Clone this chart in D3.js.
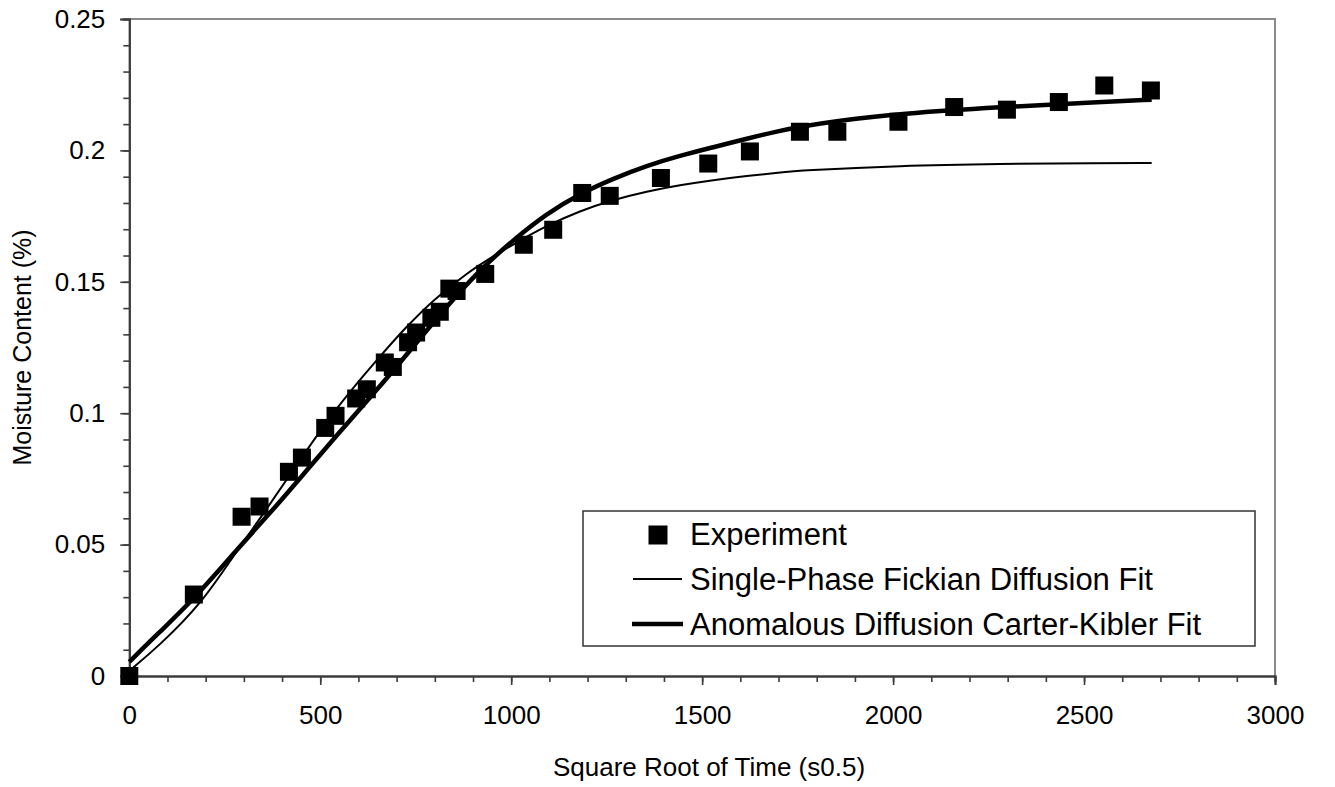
<!DOCTYPE html>
<html>
<head>
<meta charset="utf-8">
<script src="https://cdn.jsdelivr.net/npm/d3@7"></script>
<style>
  html, body { margin: 0; padding: 0; background: #fff; }
  svg { display: block; font-family: "Liberation Sans", Arial, Helvetica, sans-serif; }
</style>
</head>
<body>
<div id="chart"></div>
<script>
// Moisture uptake vs square root of time: experiment points and two fitted curves.

// Experiment points (sqrt time in s^0.5, moisture content)
const expX = [0, 169, 294, 341, 418, 452, 513, 540, 594, 622, 669, 690, 730, 751, 791, 813,
  838, 857, 932, 1033, 1110, 1186, 1258, 1392, 1516, 1625, 1756, 1854, 2014, 2160, 2298,
  2434, 2553, 2675];
const expY = [0, 0.0310, 0.0606, 0.0645, 0.0777, 0.0831, 0.0944, 0.0990, 0.1056, 0.1091,
  0.1193, 0.1176, 0.1270, 0.1307, 0.1363, 0.1386, 0.1474, 0.1465, 0.1530, 0.1641, 0.1698,
  0.1838, 0.1827, 0.1895, 0.1950, 0.1996, 0.2071, 0.2071, 0.2109, 0.2165, 0.2155, 0.2184,
  0.2247, 0.2228];

// Single-phase Fickian diffusion fit (thin line)
const fickX = [0, 76, 190, 277, 355, 425, 543, 656, 726, 796, 883, 962, 1006, 1093, 1180,
  1267, 1355, 1442, 1529, 1617, 1704, 1756, 2018, 2280, 2542, 2677];
const fickY = [0.0020, 0.0112, 0.0277, 0.0467, 0.0625, 0.0775, 0.1025, 0.1216, 0.1330,
  0.1431, 0.1533, 0.1605, 0.1643, 0.1714, 0.1770, 0.1812, 0.1844, 0.1868, 0.1887, 0.1903,
  0.1916, 0.1923, 0.1942, 0.1949, 0.1952, 0.1952];

// Anomalous diffusion Carter-Kibler fit (thick line)
const ckX = [0, 76, 163, 277, 387, 463, 560, 656, 744, 831, 918, 1006, 1093, 1180, 1268,
  1355, 1442, 1529, 1617, 1704, 1756, 1850, 2018, 2280, 2542, 2677];
const ckY = [0.0054, 0.0163, 0.0283, 0.0473, 0.0650, 0.0780, 0.0944, 0.1101, 0.1254,
  0.1406, 0.1546, 0.1660, 0.1760, 0.1835, 0.1893, 0.1942, 0.1980, 0.2012, 0.2045, 0.2075,
  0.2090, 0.2112, 0.2140, 0.2165, 0.2184, 0.2193];

const xTicks = [0, 500, 1000, 1500, 2000, 2500, 3000];
const yTicks = [0, 0.05, 0.1, 0.15, 0.2, 0.25];
const yTickLabels = ["0", "0.05", "0.1", "0.15", "0.2", "0.25"];

const legendLabels = ["Experiment", "Single-Phase Fickian Diffusion Fit",
  "Anomalous Diffusion Carter-Kibler Fit"];

const width = 1335;
const height = 787;
const plot = { left: 129.3, right: 1275, top: 19, bottom: 676 };

const svg = d3.select("#chart")
  .append("svg")
  .attr("width", width)
  .attr("height", height);

const x = d3.scaleLinear().domain([0, 3000]).range([plot.left, plot.right]);
const y = d3.scaleLinear().domain([0, 0.25]).range([plot.bottom, plot.top]);

// frame: gray top and right edges
svg.append("path")
  .attr("d", `M${plot.left},${plot.top}H${plot.right}V${plot.bottom}`)
  .attr("fill", "none")
  .attr("stroke", "#8a8a8a")
  .attr("stroke-width", 2);

const axisColor = "#3c3c3c";
const styleAxis = (g) => {
  g.selectAll(".domain").attr("stroke", axisColor).attr("stroke-width", 2);
  g.selectAll(".tick line").attr("stroke", axisColor).attr("stroke-width", 1.6);
  g.selectAll("text").attr("fill", "#000").style("font-size", "26px")
    .style("font-family", '"Liberation Sans", Arial, sans-serif');
};

// minor ticks
const xMinor = d3.range(0, 3001, 100);
const yMinor = d3.range(0, 0.2501, 0.01);

svg.append("g")
  .attr("transform", `translate(0,${plot.bottom})`)
  .call(d3.axisBottom(x).tickValues(xMinor).tickSize(6).tickFormat(""))
  .call(styleAxis);

svg.append("g")
  .attr("transform", `translate(${plot.left},0)`)
  .call(d3.axisLeft(y).tickValues(yMinor).tickSize(6).tickFormat(""))
  .call(styleAxis);

svg.append("g")
  .attr("transform", `translate(0,${plot.bottom})`)
  .call(d3.axisBottom(x).tickValues(xTicks).tickSize(9).tickPadding(21).tickFormat(d3.format("d")))
  .call(styleAxis);

svg.append("g")
  .attr("transform", `translate(${plot.left},0)`)
  .call(d3.axisLeft(y).tickValues(yTicks).tickSize(9).tickPadding(15)
    .tickFormat((d, i) => yTickLabels[i]))
  .call(styleAxis);

// axis titles
svg.append("text")
  .attr("x", 709)
  .attr("y", 776)
  .attr("text-anchor", "middle")
  .style("font-size", "26px")
  .text("Square Root of Time (s0.5)");

svg.append("text")
  .attr("transform", `translate(31,${(plot.top + plot.bottom) / 2}) rotate(-90)`)
  .attr("text-anchor", "middle")
  .style("font-size", "25px")
  .text("Moisture Content (%)");

// fitted curves
const line = d3.line()
  .x((d) => x(d[0]))
  .y((d) => y(d[1]))
  .curve(d3.curveBasis);

svg.append("path")
  .datum(d3.zip(fickX, fickY))
  .attr("fill", "none")
  .attr("stroke", "#000")
  .attr("stroke-width", 2)
  .attr("d", line);

svg.append("path")
  .datum(d3.zip(ckX, ckY))
  .attr("fill", "none")
  .attr("stroke", "#000")
  .attr("stroke-width", 4.5)
  .attr("d", line);

// experiment markers
const markerSize = 18;
svg.append("g")
  .selectAll("rect")
  .data(d3.zip(expX, expY))
  .join("rect")
  .attr("x", (d) => x(d[0]) - markerSize / 2)
  .attr("y", (d) => y(d[1]) - markerSize / 2)
  .attr("width", markerSize)
  .attr("height", markerSize)
  .attr("fill", "#000");

// legend
const legend = svg.append("g").attr("transform", "translate(583,511)");
legend.append("rect")
  .attr("width", 672)
  .attr("height", 135)
  .attr("fill", "#fff")
  .attr("stroke", "#333")
  .attr("stroke-width", 1.5);

const rowBase = [34, 79, 124];
legend.append("rect")
  .attr("x", 75 - 9.5)
  .attr("y", rowBase[0] - 10 - 9.5)
  .attr("width", 19)
  .attr("height", 19)
  .attr("fill", "#000");
legend.append("line")
  .attr("x1", 50).attr("x2", 99)
  .attr("y1", rowBase[1] - 11).attr("y2", rowBase[1] - 11)
  .attr("stroke", "#000").attr("stroke-width", 2);
legend.append("line")
  .attr("x1", 49).attr("x2", 100)
  .attr("y1", rowBase[2] - 11).attr("y2", rowBase[2] - 11)
  .attr("stroke", "#000").attr("stroke-width", 4.5);

legend.selectAll("text.label")
  .data(legendLabels)
  .join("text")
  .attr("class", "label")
  .attr("x", 107)
  .attr("y", (d, i) => rowBase[i])
  .style("font-size", "31px")
  .text((d) => d);
</script>
</body>
</html>
